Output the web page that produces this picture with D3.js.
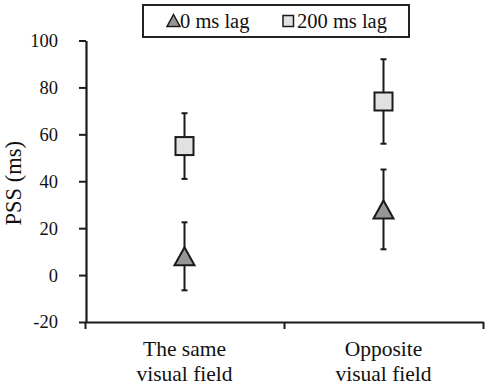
<!DOCTYPE html>
<html><head><meta charset="utf-8">
<script src="https://cdn.jsdelivr.net/npm/d3@7"></script>
<style>body{margin:0;background:#fff}svg{display:block}</style>
</head><body>
<svg id="c" width="490" height="385"></svg>
<script>
const categories = [["The same","visual field"],["Opposite","visual field"]];
const seriesNames = ["0 ms lag","200 ms lag"];
const lag0Mean = [8, 28];
const lag0Err = [14.5, 17];
const lag200Mean = [55, 74];
const lag200Err = [14, 18];
const yTicks = [-20, 0, 20, 40, 60, 80, 100];

const svg = d3.select("#c");
const ink = "#1a1a1a";
const FF = '"Liberation Serif"';

const y = d3.scaleLinear().domain([-20, 100]).range([322, 40.5]);
const xEdge = d3.scaleLinear().domain([0, 2]).range([85, 483]);
const x = d3.scaleBand().domain(d3.range(categories.length)).range([85, 483]);

// Y axis
const ya = svg.append("g").attr("transform", "translate(86,0)")
  .call(d3.axisLeft(y).tickValues(yTicks).tickFormat(d => String(d)).tickSize(7).tickPadding(21).tickSizeOuter(0));
ya.select(".domain").attr("stroke", ink).attr("stroke-width", 2.2);
ya.selectAll(".tick line").attr("stroke", ink).attr("stroke-width", 2);
ya.selectAll(".tick text").style("font-family", FF).style("font-size", "18.5px").attr("fill", "#111");

// X axis
const xa = svg.append("g").attr("transform", "translate(0," + y(-20) + ")")
  .call(d3.axisBottom(xEdge).tickValues([0, 1, 2]).tickFormat("").tickSize(7).tickSizeOuter(0));
xa.select(".domain").attr("stroke", ink).attr("stroke-width", 2.2);
xa.selectAll(".tick line").attr("stroke", ink).attr("stroke-width", 2);

// X labels
categories.forEach((lines, i) => {
  const t = svg.append("text").attr("x", x(i) + x.bandwidth() / 2).attr("y", 356)
    .attr("text-anchor", "middle").style("font-family", FF).style("font-size", "21.5px").attr("fill", "#111");
  lines.forEach((l, j) => t.append("tspan").attr("x", x(i) + x.bandwidth() / 2).attr("dy", j ? 25 : 0).text(l));
});

// Y title
svg.append("text").attr("transform", "translate(21," + ((y(-20)+y(100))/2 + 2) + ") rotate(-90)")
  .attr("text-anchor", "middle").style("font-family", FF).style("font-size", "22.5px").attr("fill", "#111")
  .text("PSS (ms)");

function errBar(cx, m, e) {
  const g = svg.append("g").attr("stroke", ink).attr("stroke-width", 2);
  g.append("line").attr("x1", cx).attr("x2", cx).attr("y1", y(m + e)).attr("y2", y(m - e));
  [m + e, m - e].forEach(v => g.append("line").attr("x1", cx - 3).attr("x2", cx + 3).attr("y1", y(v)).attr("y2", y(v)));
}
function tri(cx, cy, w, h) {
  return `M${cx},${cy - h/2}L${cx + w/2},${cy + h/2}L${cx - w/2},${cy + h/2}Z`;
}

lag0Mean.forEach((m, i) => {
  const cx = x(i) + x.bandwidth() / 2;
  errBar(cx, m, lag0Err[i]);
  svg.append("path").attr("d", tri(cx, y(m), 20, 18)).attr("fill", "#969696").attr("stroke", ink).attr("stroke-width", 2);
});
lag200Mean.forEach((m, i) => {
  const cx = x(i) + x.bandwidth() / 2;
  errBar(cx, m, lag200Err[i]);
  svg.append("rect").attr("x", cx - 9).attr("y", y(m) - 9).attr("width", 18).attr("height", 18)
    .attr("fill", "#e1e1e1").attr("stroke", ink).attr("stroke-width", 2);
});

// Legend
const lg = svg.append("g");
lg.append("rect").attr("x", 143).attr("y", 5).attr("width", 266).attr("height", 32)
  .attr("fill", "#fff").attr("stroke", "#222").attr("stroke-width", 2);
lg.append("path").attr("d", tri(173.5, 20.5, 13, 12)).attr("fill", "#969696").attr("stroke", ink).attr("stroke-width", 1.5);
lg.append("text").attr("x", 180).attr("y", 28).style("font-family", FF).style("font-size", "20.5px").attr("fill", "#111").text(seriesNames[0]);
lg.append("rect").attr("x", 283).attr("y", 15.5).attr("width", 10.5).attr("height", 11)
  .attr("fill", "#e1e1e1").attr("stroke", ink).attr("stroke-width", 1.5);
lg.append("text").attr("x", 297).attr("y", 28).style("font-family", FF).style("font-size", "20.5px").attr("fill", "#111").text(seriesNames[1]);
</script>
</body></html>
